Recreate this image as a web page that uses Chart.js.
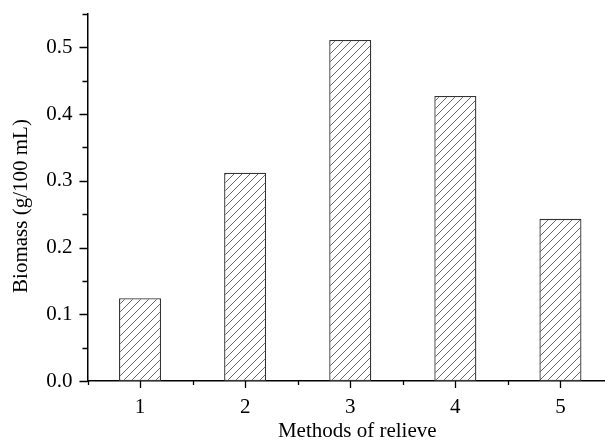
<!DOCTYPE html>
<html>
<head>
<meta charset="utf-8">
<script src="https://cdn.jsdelivr.net/npm/chart.js@4.4.1/dist/chart.umd.min.js"></script>
<style>
  html, body { margin: 0; padding: 0; background: #fff; overflow: hidden; }
  #wrap { position: relative; width: 613px; height: 440px; }
</style>
</head>
<body>
<div id="wrap"><canvas id="barChart"></canvas></div>
<script>
// Data
const methods = ['1', '2', '3', '4', '5'];
const biomass = [0.124, 0.312, 0.511, 0.427, 0.243];
const yMajorTicks = [0, 0.1, 0.2, 0.3, 0.4, 0.5];
const yMinorTicks = [0.05, 0.15, 0.25, 0.35, 0.45, 0.55];
const xTitle = 'Methods of relieve';
const yTitle = 'Biomass (g/100 mL)';

const serif = "'Liberation Serif', 'DejaVu Serif', serif";

// Diagonal hatch fill
function makeHatch() {
    const size = 8;
    const c = document.createElement('canvas');
    c.width = size;
    c.height = size;
    const g = c.getContext('2d');
    g.fillStyle = '#fff';
    g.fillRect(0, 0, size, size);
    g.strokeStyle = '#555';
    g.lineWidth = 0.9;
    g.beginPath();
    g.moveTo(0, size); g.lineTo(size, 0);
    g.moveTo(-1, 1); g.lineTo(1, -1);
    g.moveTo(size - 1, size + 1); g.lineTo(size + 1, size - 1);
    g.stroke();
    return g.createPattern(c, 'repeat');
}

// Outward major/minor ticks and axis titles like the original plot
const axisDecor = {
    id: 'axisDecor',
    afterDraw(chart) {
        const ctx = chart.ctx;
        const area = chart.chartArea;
        const x = chart.scales.x;
        const y = chart.scales.y;
        ctx.save();
        ctx.strokeStyle = '#000';
        ctx.lineWidth = 1.3;
        ctx.beginPath();
        yMajorTicks.forEach(v => {
            const py = Math.round(y.getPixelForValue(v)) + 0.5;
            ctx.moveTo(area.left - 8, py); ctx.lineTo(area.left, py);
        });
        yMinorTicks.forEach(v => {
            const py = Math.round(y.getPixelForValue(v)) + 0.5;
            ctx.moveTo(area.left - 5, py); ctx.lineTo(area.left, py);
        });
        methods.forEach((m, i) => {
            const px = Math.round(x.getPixelForValue(i)) + 0.5;
            ctx.moveTo(px, area.bottom); ctx.lineTo(px, area.bottom + 7);
        });
        for (let i = 0; i <= methods.length; i++) {
            const px = Math.round(x.getPixelForValue(i - 0.5)) + 0.5;
            ctx.moveTo(px, area.bottom); ctx.lineTo(px, area.bottom + 4);
        }
        ctx.stroke();

        // titles (the original sits them a little off the plot centre)
        ctx.fillStyle = '#000';
        ctx.font = '21px ' + serif;
        ctx.textAlign = 'center';
        ctx.textBaseline = 'middle';
        ctx.fillText(xTitle, (area.left + area.right) / 2 + 7, area.bottom + 50);
        ctx.translate(21, (area.top + area.bottom) / 2 + 8.5);
        ctx.rotate(-Math.PI / 2);
        ctx.fillText(yTitle, 0, 0);
        ctx.restore();
    }
};

document.addEventListener('DOMContentLoaded', () => {
    Chart.defaults.font.family = serif;
    Chart.defaults.color = '#000';

    new Chart(document.getElementById('barChart'), {
        type: 'bar',
        data: {
            labels: methods,
            datasets: [{
                data: biomass,
                backgroundColor: makeHatch(),
                borderColor: '#333',
                borderWidth: 1.3,
                borderSkipped: false,
                barPercentage: 0.4,
                categoryPercentage: 1
            }]
        },
        options: {
            responsive: true,
            maintainAspectRatio: false,
            animation: false,
            layout: { padding: { top: 14, right: 0, left: 0, bottom: 0 } },
            plugins: {
                legend: { display: false },
                tooltip: { enabled: false }
            },
            scales: {
                x: {
                    offset: true,
                    grid: { display: false, drawTicks: false },
                    border: { display: true, color: '#000', width: 1.5 },
                    ticks: { font: { size: 21 }, padding: 14, color: '#000' },
                    afterFit(scale) {
                        scale.height = 59;
                        scale.paddingLeft = 0;
                        scale.paddingRight = 0;
                    }
                },
                y: {
                    min: 0,
                    max: 0.55,
                    grid: { display: false, drawTicks: false },
                    border: { display: true, color: '#000', width: 1.5 },
                    ticks: {
                        stepSize: 0.1,
                        padding: 15,
                        font: { size: 21 },
                        color: '#000',
                        callback: v => yMajorTicks.some(t => Math.abs(t - v) < 1e-6) ? v.toFixed(1) : ''
                    },
                    afterFit(scale) {
                        scale.width = 87.5;
                        scale.paddingTop = 0;
                        scale.paddingBottom = 0;
                    }
                }
            }
        },
        plugins: [axisDecor]
    });
});
</script>
</body>
</html>
